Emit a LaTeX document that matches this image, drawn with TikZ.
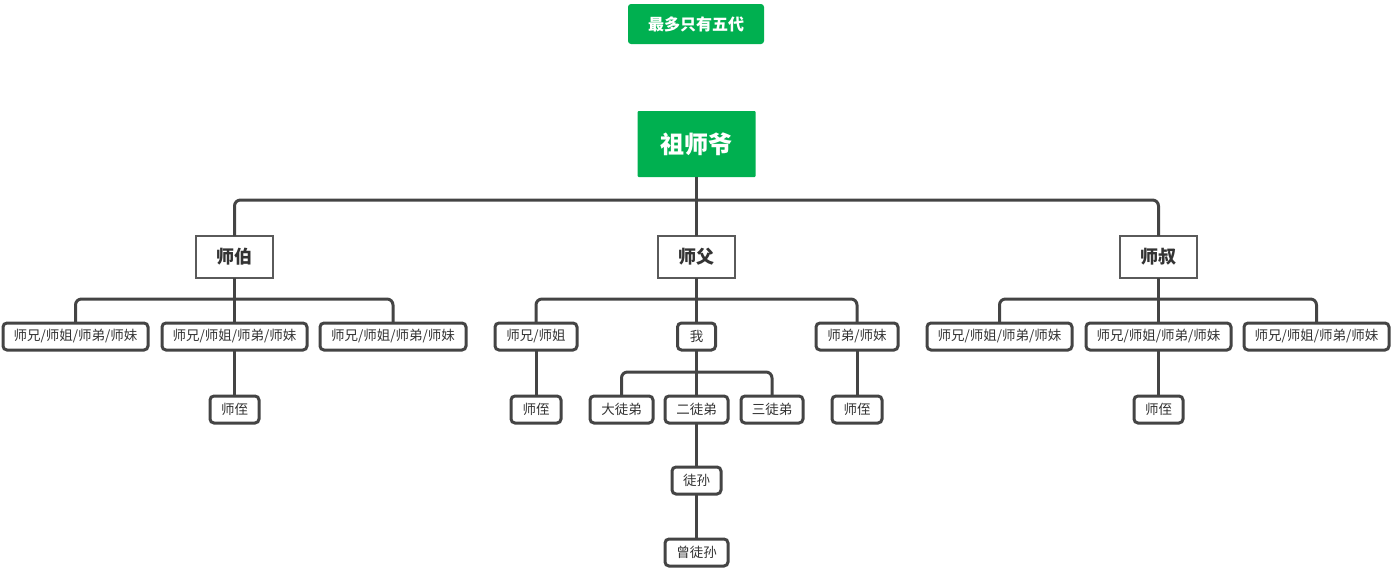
\documentclass[tikz,border=0pt]{standalone}
\usepackage{fontspec}
\setmainfont{Noto Sans CJK SC}
\begin{document}
\begin{tikzpicture}[x=1pt,y=-1pt,
  every node/.style={inner sep=0pt, outer sep=0pt},
  green box/.style={fill=tgreen, text=white, font=\bfseries},
  lvl2/.style={draw=lgray, line width=1.5pt, fill=white, text=tdark, font=\fontsize{18}{20}\selectfont\bfseries, minimum width=77pt, minimum height=42pt},
  leaf/.style={draw=cdark, line width=3pt, rounded corners=4pt, fill=white, text=tdark, font=\fontsize{13.5}{15}\selectfont, minimum height=27pt},
  conn/.style={draw=cdark, line width=3pt, rounded corners=6pt},
]
\definecolor{tgreen}{RGB}{0,176,80}
\definecolor{lgray}{RGB}{90,90,90}
\definecolor{cdark}{RGB}{68,68,68}
\definecolor{tdark}{RGB}{51,51,51}
\useasboundingbox (0,0) rectangle (1395,570);

% title
\node[green box, rounded corners=3pt, minimum width=136pt, minimum height=40pt, font=\fontsize{16}{18}\selectfont\bfseries] (title) at (696,24) {最多只有五代};

% root
\node[green box, rounded corners=1pt, minimum width=118pt, minimum height=66pt, font=\fontsize{24}{26}\selectfont\bfseries] (root) at (696.5,144) {祖师爷};

% level 2
\node[lvl2] (bo) at (234.5,257) {师伯};
\node[lvl2] (fu) at (696.5,257) {师父};
\node[lvl2] (shu) at (1158.5,257) {师叔};

% level 3
\node[leaf, minimum width=145pt] (l1) at (75.5,336.5) {师兄/师姐/师弟/师妹};
\node[leaf, minimum width=145pt] (l2) at (234.5,336.5) {师兄/师姐/师弟/师妹};
\node[leaf, minimum width=146pt] (l3) at (393,336.5) {师兄/师姐/师弟/师妹};
\node[leaf, minimum width=82pt] (m1) at (536,336.5) {师兄/师姐};
\node[leaf, minimum width=38pt] (me) at (696.5,336.5) {我};
\node[leaf, minimum width=82pt] (m3) at (857,336.5) {师弟/师妹};
\node[leaf, minimum width=145pt] (r1) at (999.5,336.5) {师兄/师姐/师弟/师妹};
\node[leaf, minimum width=145pt] (r2) at (1158.5,336.5) {师兄/师姐/师弟/师妹};
\node[leaf, minimum width=145pt] (r3) at (1316.5,336.5) {师兄/师姐/师弟/师妹};

% level 4
\node[leaf, minimum width=49pt] (n1) at (234.5,409.5) {师侄};
\node[leaf, minimum width=50pt] (n2) at (536,409.5) {师侄};
\node[leaf, minimum width=63pt] (d1) at (621.5,409.5) {大徒弟};
\node[leaf, minimum width=63pt] (d2) at (696.5,409.5) {二徒弟};
\node[leaf, minimum width=62pt] (d3) at (772,409.5) {三徒弟};
\node[leaf, minimum width=50pt] (n3) at (857,409.5) {师侄};
\node[leaf, minimum width=49pt] (n4) at (1158.5,409.5) {师侄};

% level 5, 6
\node[leaf, minimum width=49pt] (g1) at (696.5,480.5) {徒孙};
\node[leaf, minimum width=63pt] (g2) at (696.5,552.5) {曾徒孙};

% bar coordinates
\coordinate (b0) at (696.5,200);
\coordinate (bL) at (234.5,299);
\coordinate (bM) at (696.5,299);
\coordinate (bR) at (1158.5,299);
\coordinate (bW) at (696.5,372);

% connectors
\draw[conn] (root.south) -- (fu.north);
\draw[conn] (bo.north) |- (b0);
\draw[conn] (shu.north) |- (b0);

\draw[conn] (bo.south) -- (l2.north);
\draw[conn] (l1.north) |- (bL);
\draw[conn] (l3.north) |- (bL);

\draw[conn] (fu.south) -- (me.north);
\draw[conn] (m1.north) |- (bM);
\draw[conn] (m3.north) |- (bM);

\draw[conn] (shu.south) -- (r2.north);
\draw[conn] (r1.north) |- (bR);
\draw[conn] (r3.north) |- (bR);

\draw[conn] (l2.south) -- (n1.north);
\draw[conn] (m1.south) -- (n2.north);
\draw[conn] (m3.south) -- (n3.north);
\draw[conn] (r2.south) -- (n4.north);

\draw[conn] (me.south) -- (d2.north);
\draw[conn] (d1.north) |- (bW);
\draw[conn] (d3.north) |- (bW);

\draw[conn] (d2.south) -- (g1.north);
\draw[conn] (g1.south) -- (g2.north);
\end{tikzpicture}
\end{document}
